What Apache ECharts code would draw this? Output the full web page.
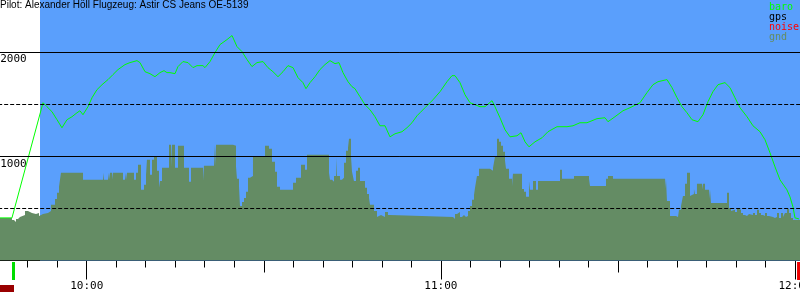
<!DOCTYPE html>
<html><head><meta charset="utf-8">
<script src="https://cdn.jsdelivr.net/npm/echarts@6/dist/echarts.min.js"></script>
<style>html,body{margin:0;padding:0;background:#fff}#c{width:800px;height:300px}</style>
</head><body><div id="c"></div>
<script>
const titleText = 'Pilot: Alexander Höll Flugzeug: Astir CS Jeans OE-5139';
const legendNames = ['baro', 'gps', 'noise', 'gnd'];
const legendColors = ['#00ff00', '#000000', '#ff0000', '#648c64'];
// times in minutes after midnight
const minorTickStep = 5;
const hourTicks = [600, 660, 720];
const halfHourTicks = [630, 690];
const altLabels = [1000, 2000];
const solidLevels = [1000, 2000];
const dashedLevels = [500, 1500];
const skyStart = 592.09, skyEnd = 721;
const takeoffTime = 587.6, landingTime = 720.6;
const noiseStart = 585.31, noiseEnd = 587.68;

const baroTime = [585.31,587.34,592.60,593.27,594.12,594.97,595.81,596.66,597.51,598.36,598.86,599.37,600.22,600.90,601.74,602.59,603.61,604.45,605.30,606.49,607.33,608.52,609.03,609.88,610.72,611.57,612.42,613.10,613.60,614.11,614.96,615.47,616.31,617.16,618.01,618.69,619.70,620.04,620.89,621.74,622.58,623.77,624.62,625.46,626.31,627.16,628.00,628.85,629.87,630.71,631.56,632.41,633.26,634.10,634.95,635.80,636.64,637.15,637.83,638.68,639.52,640.37,641.22,642.07,642.74,643.42,644.27,644.95,645.45,646.30,647.15,648.00,648.84,649.69,650.54,651.38,652.23,653.42,654.26,655.11,655.96,656.47,657.31,658.67,659.86,661.04,661.89,662.40,663.24,664.09,664.94,665.79,666.63,667.48,668.67,669.17,670.02,670.87,671.72,672.90,673.58,674.26,674.93,675.95,677.14,678.15,679.68,681.37,682.39,683.57,684.76,686.45,687.81,688.32,689.50,690.86,692.04,693.74,694.92,695.94,696.79,698.31,699.16,700.01,700.85,701.70,702.55,703.56,704.41,705.26,706.10,706.95,708.14,708.99,709.83,710.68,711.87,712.88,714.07,714.92,715.76,716.61,717.46,718.64,719.15,719.66,720.00,720.68];
const baroAlt = [409,409,1514,1476,1428,1351,1274,1351,1380,1418,1437,1399,1476,1562,1639,1687,1736,1784,1832,1880,1899,1918,1899,1812,1793,1764,1803,1822,1803,1803,1793,1861,1909,1899,1851,1870,1870,1851,1909,1995,2072,2120,2159,2053,2005,1928,1861,1899,1909,1851,1812,1764,1812,1870,1851,1755,1707,1649,1707,1764,1832,1880,1918,1889,1899,1803,1716,1668,1649,1572,1495,1447,1380,1293,1293,1187,1216,1236,1274,1322,1389,1418,1466,1543,1620,1716,1774,1774,1707,1591,1514,1495,1476,1476,1534,1476,1370,1255,1187,1197,1226,1139,1091,1139,1178,1236,1284,1284,1293,1322,1322,1361,1370,1332,1380,1437,1466,1514,1611,1687,1716,1736,1659,1562,1476,1418,1351,1332,1399,1524,1620,1687,1707,1659,1562,1466,1380,1293,1236,1159,1034,899,774,678,611,514,409,399];

const gndTime = [585.31,587.34,587.68,588.02,588.36,588.70,589.55,590.05,590.73,591.41,591.58,591.92,592.09,592.60,593.44,593.95,594.63,594.97,595.31,595.64,599.37,602.76,602.93,603.61,603.78,603.95,604.29,604.45,606.15,606.49,606.66,606.83,608.01,608.35,608.69,609.20,609.71,610.05,610.21,610.72,611.06,611.40,611.91,612.25,612.42,612.76,613.94,614.28,614.45,614.96,615.47,616.48,617.33,617.67,619.70,619.87,621.57,621.74,621.91,624.79,625.30,625.46,625.80,625.97,626.31,626.65,626.99,627.33,627.67,628.17,630.21,630.88,631.39,631.90,632.24,632.75,634.95,635.46,636.31,636.98,637.32,641.05,641.22,641.56,641.90,642.24,642.40,642.91,643.25,643.59,643.93,644.27,644.44,644.78,644.95,645.28,645.62,645.96,646.30,647.15,647.49,647.83,648.00,648.67,649.18,649.35,649.86,650.54,651.04,651.38,662.06,662.40,662.74,663.24,663.58,663.92,664.26,664.60,664.94,665.28,665.62,665.79,666.12,666.46,668.33,668.84,669.17,669.51,669.85,670.19,670.53,670.87,671.04,671.55,672.05,672.22,673.75,674.09,674.43,674.93,675.10,675.61,676.12,676.46,680.19,680.53,682.56,685.10,685.27,687.98,688.32,689.16,697.97,698.14,698.31,698.82,699.84,700.18,700.35,700.69,701.02,701.36,701.70,702.21,702.38,702.88,703.05,703.39,704.24,704.41,704.75,705.43,705.60,705.77,708.48,708.82,709.16,709.49,709.83,710.17,710.51,710.85,711.19,711.53,711.87,712.21,712.88,713.22,713.56,713.90,714.24,714.58,714.92,715.26,715.60,715.93,716.27,716.61,716.95,717.29,717.63,717.97,718.30,718.64,718.98,719.32,719.66,721];
const gndAlt = [409,389,370,399,418,437,476,457,447,428,457,428,447,457,476,534,591,649,707,841,774,841,774,841,774,841,774,841,774,841,774,841,774,841,918,678,726,822,966,822,966,995,861,697,764,889,1111,889,1111,889,1101,889,755,889,764,909,1111,909,1111,1101,899,784,716,524,562,601,659,793,812,995,1101,1072,947,851,707,678,745,793,918,870,1014,841,774,755,812,986,812,774,793,937,1053,1082,1168,995,851,764,861,889,764,697,639,601,534,476,418,437,418,466,437,418,399,447,466,418,437,418,428,476,524,582,630,697,812,880,861,889,995,1168,1139,1101,1043,957,880,784,707,832,687,659,611,764,678,764,678,764,870,784,812,784,716,784,812,784,687,784,572,428,418,437,486,524,620,736,841,620,639,687,639,736,678,736,678,591,678,553,649,505,476,486,466,495,486,457,437,428,447,437,457,437,486,457,437,428,457,428,409,418,409,418,457,409,457,418,457,495,457,409,389,389];

const mono = 'DejaVu Sans Mono';
const fmtTime = v => Math.floor(v / 60) + ':' + String(Math.round(v % 60)).padStart(2, '0');

const chart = echarts.init(document.getElementById('c'), null, {renderer: 'canvas'});
const xBase = {type: 'value', gridIndex: 0, min: 585, max: 721, position: 'bottom',
  splitLine: {show: false}};
chart.setOption({
  animation: false,
  grid: {left: -1.84, right: -0.9, top: 0, bottom: 39.5, containLabel: false, outerBoundsMode: 'none'},
  xAxis: [
    Object.assign({}, xBase, {interval: minorTickStep,
      axisLine: {show: true, lineStyle: {color: '#000', width: 1}},
      axisTick: {show: true, length: 7, lineStyle: {color: '#000', width: 1}},
      axisLabel: {show: false}}),
    Object.assign({}, xBase, {
      axisLine: {show: false},
      axisTick: {show: true, length: 19, customValues: hourTicks, lineStyle: {color: '#000', width: 1}},
      axisLabel: {show: true, customValues: hourTicks, margin: 20, formatter: fmtTime,
        color: '#000', fontFamily: mono, fontSize: 11}}),
    Object.assign({}, xBase, {
      axisLine: {show: false},
      axisTick: {show: true, length: 12, customValues: halfHourTicks, lineStyle: {color: '#000', width: 1}},
      axisLabel: {show: false}})
  ],
  yAxis: {type: 'value', min: 0, max: 2500, axisLine: {show: false}, axisTick: {show: false},
    splitLine: {show: false},
    axisLabel: {show: true, inside: true, customValues: altLabels, margin: 2, formatter: v => String(v),
      verticalAlign: 'top', padding: [2, 0, 0, 0], color: '#000', fontFamily: mono, fontSize: 11}},
  title: [
    {text: titleText, left: 0, top: 0, padding: 0, z: 20,
      textStyle: {fontFamily: 'Liberation Sans', fontSize: 10, fontWeight: 'normal', color: '#000'}},
    {text: legendNames.map((n, i) => '{s' + i + '|' + n + '}').join('\n'), left: 769, top: 2, padding: 0, z: 20,
      textStyle: {fontFamily: mono, fontSize: 10, fontWeight: 'normal', lineHeight: 10,
        rich: Object.fromEntries(legendNames.map((n, i) => ['s' + i,
          {color: legendColors[i], fontFamily: mono, fontSize: 10, lineHeight: 10}]))}}
  ],
  series: [
    {name: 'sky', type: 'line', data: [[skyStart, 0]], symbol: 'none', lineStyle: {opacity: 0}, z: 1,
      markArea: {silent: true, itemStyle: {color: '#5a9ffc', opacity: 1},
        data: [[{xAxis: skyStart}, {xAxis: skyEnd}]]}},
    {name: 'gnd', type: 'line', step: 'end', symbol: 'none', z: 2,
      data: gndTime.map((t, i) => [t, gndAlt[i]]),
      lineStyle: {width: 0, opacity: 0}, areaStyle: {color: '#648c64', opacity: 1}},
    {name: 'levels', type: 'line', data: [], z: 3,
      markLine: {silent: true, symbol: 'none', label: {show: false},
        data: solidLevels.map(v => ({yAxis: v, lineStyle: {color: '#000', width: 1, type: 'solid'}}))
          .concat(dashedLevels.map(v => ({yAxis: v, lineStyle: {color: '#000', width: 1, type: [4, 2]}})))}},
    {name: 'baro', type: 'line', symbol: 'none', z: 4,
      data: baroTime.map((t, i) => [t, baroAlt[i]]),
      lineStyle: {color: '#00ff00', width: 1}}
  ]
});

const px = t => chart.convertToPixel({xAxisIndex: 0}, t);
const y0 = chart.convertToPixel({yAxisIndex: 0}, 0);
chart.setOption({
  graphic: [
    {type: 'rect', z: 50, shape: {x: px(takeoffTime) - 1.5, y: y0 + 1.5, width: 3, height: 18}, style: {fill: '#00dd00'}},
    {type: 'rect', z: 50, shape: {x: px(landingTime) - 1.5, y: y0 + 1.5, width: 3, height: 18}, style: {fill: '#ee0000'}},
    {type: 'rect', z: 50, shape: {x: px(noiseStart), y: y0 + 24.5, width: px(noiseEnd) - px(noiseStart), height: 7}, style: {fill: '#990000'}}
  ]
});
</script></body></html>
